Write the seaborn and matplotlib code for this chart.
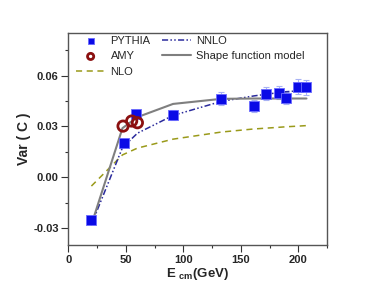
import matplotlib
matplotlib.use("Agg")
import matplotlib.pyplot as plt
import seaborn as sns
import pandas as pd
import numpy as np

# ---- data ----
pythia_E = [20, 48, 59, 91, 133, 161, 172, 183, 189, 200, 207]
pythia_var = [-0.025, 0.020, 0.0375, 0.0368, 0.0465, 0.042, 0.0494, 0.050, 0.0468, 0.0534, 0.0531]
pythia_err = [0.001, 0.001, 0.0015, 0.003, 0.004, 0.0035, 0.004, 0.004, 0.0035, 0.0045, 0.0045]

amy_E = [47.5, 55, 60]
amy_var = [0.0302, 0.0332, 0.0322]

model_E = [20, 47, 60, 91, 133, 161, 172, 183, 189, 200, 207]
nnlo_var = [-0.028, 0.0175, 0.026, 0.0365, 0.0448, 0.048, 0.049, 0.050, 0.0505, 0.051, 0.052]
shape_var = [-0.028, 0.029, 0.0355, 0.0433, 0.0463, 0.0465, 0.0465, 0.0465, 0.0465, 0.0465, 0.0465]
nlo_var = [-0.0052, 0.0132, 0.0172, 0.0225, 0.0267, 0.0285, 0.029, 0.0295, 0.0298, 0.0302, 0.0305]

xticks = [0, 50, 100, 150, 200]
yticks = [-0.03, 0.00, 0.03, 0.06]
ytick_labels = ["-0.03", "0.00", "0.03", "0.06"]

sns.set_style("ticks")
plt.rcParams['font.family'] = ['Liberation Sans', 'DejaVu Sans']
plt.rcParams['mathtext.default'] = 'regular'

fig = plt.figure(figsize=(3.8, 2.94), dpi=100)
ax = fig.add_axes([0.18, 0.1667, 0.681, 0.72])

df_models = pd.DataFrame({"E": model_E, "nnlo": nnlo_var, "shape": shape_var, "nlo": nlo_var})
df_py = pd.DataFrame({"E": pythia_E, "var": pythia_var, "err": pythia_err})
df_amy = pd.DataFrame({"E": amy_E, "var": amy_var})

# error bars of PYTHIA
ax.errorbar(df_py["E"], df_py["var"], yerr=df_py["err"], fmt="none",
            ecolor="#a8b2f4", elinewidth=0.8, capsize=2, capthick=0.8, zorder=2)

sns.lineplot(data=df_models, x="E", y="nlo", ax=ax, color="#9a9a1a", lw=1.1,
             zorder=3, label="NLO")
ax.lines[-1].set_dashes([4, 3])
sns.lineplot(data=df_models, x="E", y="nnlo", ax=ax, color="#2b2b9c", lw=1.1,
             zorder=3, label="NNLO")
ax.lines[-1].set_dashes([4, 1.5, 1, 1.5, 1, 1.5])
sns.lineplot(data=df_models, x="E", y="shape", ax=ax, color="#7f7f7f", lw=1.5,
             zorder=4, label="Shape function model")

sns.scatterplot(data=df_py, x="E", y="var", ax=ax, marker="s", s=60,
                color="#0a0ae6", edgecolor="#6a6aff", linewidth=0.6, zorder=5, label="PYTHIA")
sns.scatterplot(data=df_amy, x="E", y="var", ax=ax, marker="o", s=55,
                facecolor="none", edgecolor="#8b1010", linewidth=2.0, zorder=6, label="AMY")

ax.set_xlim(0, 225)
ax.set_ylim(-0.04, 0.085)
ax.set_xticks(xticks)
ax.set_xticks([25, 75, 125, 175, 225], minor=True)
ax.set_yticks(yticks)
ax.set_yticklabels(ytick_labels)
ax.set_yticks([-0.015, 0.015, 0.045, 0.075], minor=True)
ax.tick_params(which="major", direction="out", length=5, width=0.8, labelsize=8,
               color="#333333", pad=2)
ax.tick_params(which="minor", direction="out", length=2.5, width=0.8, color="#333333")
for lab in ax.get_xticklabels() + ax.get_yticklabels():
    lab.set_fontweight("bold")
for sp in ax.spines.values():
    sp.set_visible(True)
    sp.set_color("#555555")
    sp.set_linewidth(1.0)

ax.set_xlabel("E $_{cm}$(GeV)", fontsize=9.5, fontweight="bold", labelpad=1)
ax.set_ylabel("Var ( C )", fontsize=10, fontweight="bold", labelpad=1.5)

handles, labels = ax.get_legend_handles_labels()
hd = dict(zip(labels, handles))
order = ["PYTHIA", "AMY", "NLO", "NNLO", "Shape function model"]
ax.legend([hd[k] for k in order], order, ncol=2, frameon=False, fontsize=8,
          loc="upper left", bbox_to_anchor=(0.0, 1.025), handlelength=2.6,
          markerscale=0.6, columnspacing=1.0, labelspacing=0.5, handletextpad=0.5,
          borderaxespad=0.3)

fig.savefig("out.png", dpi=100)
